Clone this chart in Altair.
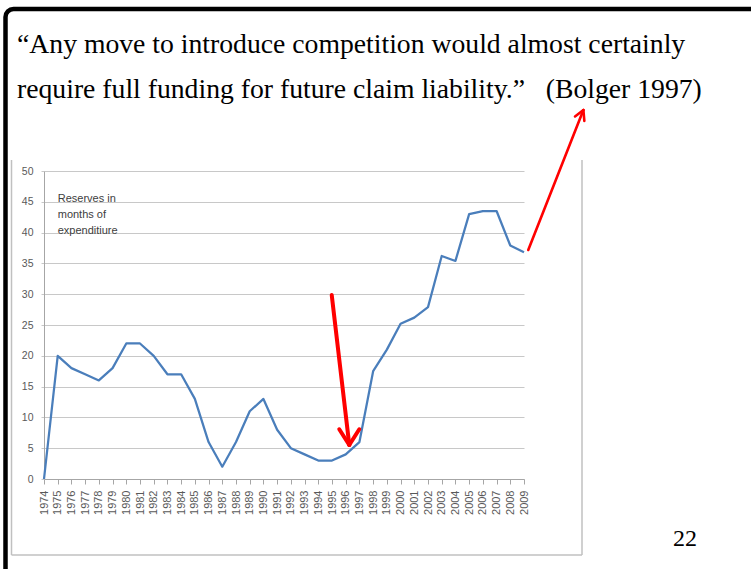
import altair as alt
import pandas as pd

# ---- data ----
YEARS = [1974, 1975, 1976, 1977, 1978, 1979, 1980, 1981, 1982, 1983, 1984, 1985,
         1986, 1987, 1988, 1989, 1990, 1991, 1992, 1993, 1994, 1995, 1996, 1997,
         1998, 1999, 2000, 2001, 2002, 2003, 2004, 2005, 2006, 2007, 2008, 2009]
RESERVES = [0, 20, 18, 17, 16, 18, 22, 22, 20, 17, 17, 13,
            6, 2, 6, 11, 13, 8, 5, 4, 3, 3, 4, 6,
            17.5, 21, 25.2, 26.2, 27.9, 36.2, 35.4, 43, 43.5, 43.5, 37.9, 36.8]
Y_TICKS = [0, 5, 10, 15, 20, 25, 30, 35, 40, 45, 50]

TITLE_LINES = ["\u201cAny move to introduce competition would almost certainly",
               "require full funding for future claim liability.\u201d\u00a0\u00a0\u00a0(Bolger 1997)"]
NOTE_LINES = ["Reserves in", "months of", "expenditiure"]
NOTE_ANCHOR_X = [1975]
NOTE_ANCHOR_Y = [46.5]
PAGE_NUMBER = "22"

# arrows: start, tip, two wing ends (in data units)
ARROW1_X = [1994.98, 1996.26, 1995.53, 1996.99]
ARROW1_Y = [29.87, 5.52, 8.07, 8.07]
ARROW2_X = [2009.31, 2013.33, 2012.72, 2013.40]
ARROW2_Y = [37.18, 59.90, 58.85, 58.12]


def arrow_segments(xs, ys):
    sx, tx, w1x, w2x = xs
    sy, ty, w1y, w2y = ys
    return pd.DataFrame({
        "year": [sx, w1x, w2x],
        "value": [sy, w1y, w2y],
        "x2": [tx, tx, tx],
        "y2": [ty, ty, ty],
    })


df = pd.DataFrame({"year": YEARS, "value": RESERVES})
one = alt.InlineData(values=[{"k": 0}])

XSCALE = alt.Scale(domain=[1974, 2009], nice=False, zero=False)
YSCALE = alt.Scale(domain=[0, 50], nice=False)

AX_COL = "#a6a6a6"
LBL_COL = "#595959"

XAXIS = alt.Axis(
    values=YEARS, format="d", labelAngle=270, grid=False, title=None,
    domainColor=AX_COL, tickColor=AX_COL, tickSize=5, labelPadding=6,
    labelFont="Liberation Sans", labelFontSize=11, labelColor=LBL_COL,
    labelOverlap=False, labelFlush=False)
YAXIS = alt.Axis(
    values=Y_TICKS, grid=True, gridColor="#c8c8c8", gridWidth=1, title=None,
    domainColor=AX_COL, tickColor="#c8c8c8", tickSize=3, labelPadding=8,
    labelFont="Liberation Sans", labelFontSize=10.5, labelColor=LBL_COL)

line = alt.Chart(df).mark_line(
    color="#4a7ebb", strokeWidth=2.25, strokeJoin="round"
).encode(
    x=alt.X("year:Q", scale=XSCALE, axis=XAXIS),
    y=alt.Y("value:Q", scale=YSCALE, axis=YAXIS),
)

note = alt.Chart(pd.DataFrame({"year": NOTE_ANCHOR_X, "value": NOTE_ANCHOR_Y})).mark_text(
    text=NOTE_LINES, align="left", baseline="top", lineHeight=16,
    font="Liberation Sans", fontSize=11, color="#404040"
).encode(
    x=alt.X("year:Q", scale=XSCALE, axis=XAXIS),
    y=alt.Y("value:Q", scale=YSCALE, axis=YAXIS),
)


def arrow_layer(xs, ys, width):
    return alt.Chart(arrow_segments(xs, ys)).mark_rule(
        color="#ff0000", strokeWidth=width, strokeCap="round"
    ).encode(
        x=alt.X("year:Q", scale=XSCALE, axis=XAXIS),
        y=alt.Y("value:Q", scale=YSCALE, axis=YAXIS),
        x2="x2:Q",
        y2="y2:Q",
    )


arrow1 = arrow_layer(ARROW1_X, ARROW1_Y, 4)
arrow2 = arrow_layer(ARROW2_X, ARROW2_Y, 2.6)

# ---- slide decorations (pixel positions relative to the plot area) ----
frame = alt.Chart(one).mark_rect(
    filled=False, stroke="black", strokeWidth=4.5, cornerRadius=8
).encode(x=alt.value(-38.5), x2=alt.value(800), y=alt.value(-162), y2=alt.value(460))

BOX = "#c0c0c0"
box_left = alt.Chart(one).mark_rule(color=BOX, strokeWidth=1.5).encode(
    x=alt.value(-32.5), y=alt.value(-11), y2=alt.value(384))
box_right = alt.Chart(one).mark_rule(color=BOX, strokeWidth=1.5).encode(
    x=alt.value(538), y=alt.value(-11), y2=alt.value(384))
box_bottom = alt.Chart(one).mark_rule(color=BOX, strokeWidth=1.5).encode(
    x=alt.value(-32.5), x2=alt.value(538), y=alt.value(384))

title = alt.Chart(one).mark_text(
    text=TITLE_LINES, align="left", baseline="alphabetic", lineHeight=45,
    font="Liberation Serif", fontSize=27.7, color="black"
).encode(x=alt.value(-27), y=alt.value(-118))

page = alt.Chart(one).mark_text(
    text=PAGE_NUMBER, align="left", baseline="alphabetic",
    font="Liberation Serif", fontSize=24, color="black"
).encode(x=alt.value(629), y=alt.value(375))

chart = alt.layer(
    line, note, arrow1, arrow2, box_left, box_right, box_bottom, title, page, frame
).properties(
    width=480, height=308,
    autosize=alt.AutoSizeParams(type="none"),
    padding={"left": 44, "top": 171, "right": 227, "bottom": 90},
    background="white",
).configure_view(stroke=None)

chart.save("out.html", embed_options={"renderer": "svg", "actions": False})
